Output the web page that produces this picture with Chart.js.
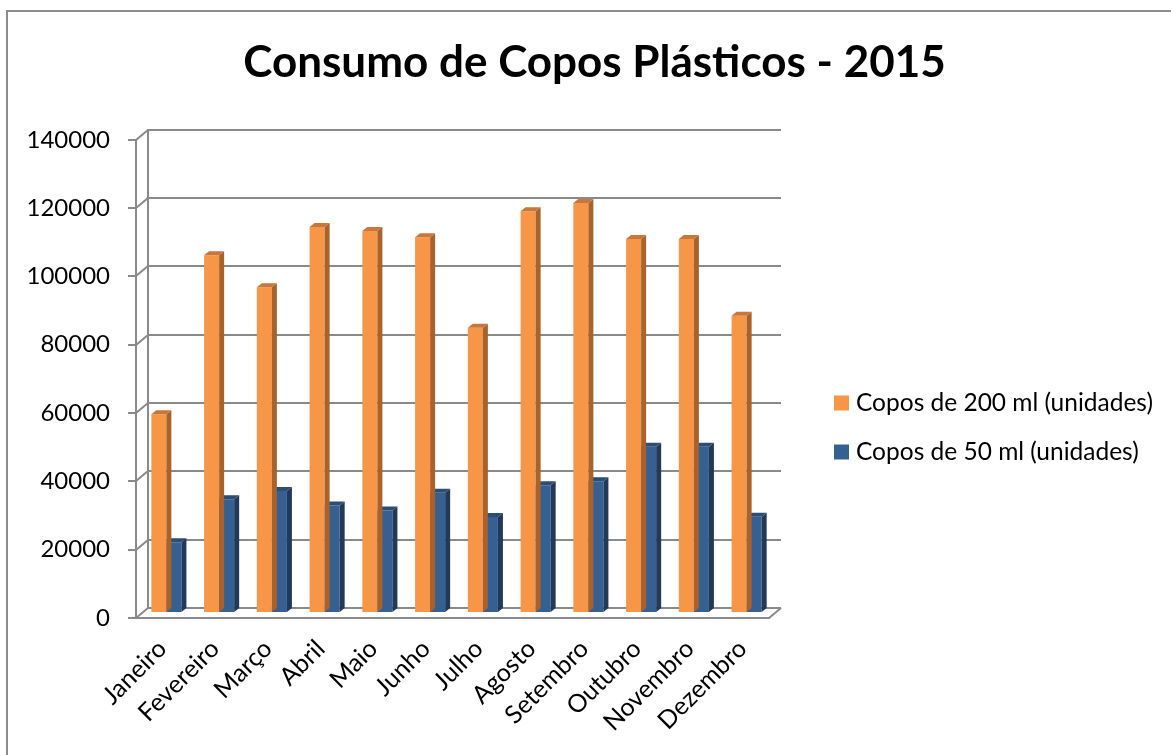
<!DOCTYPE html>
<html>
<head>
<meta charset="utf-8">
<script src="https://cdn.jsdelivr.net/npm/chart.js@4"></script>
<style>
  html, body { margin: 0; padding: 0; background: #fff; }
  #wrap { width: 1171px; height: 755px; position: relative; }
</style>
</head>
<body>
<div id="wrap"><canvas id="c" width="1171" height="755"></canvas></div>
<script>
// ---- data ----
const months = ['Janeiro', 'Fevereiro', 'Março', 'Abril', 'Maio', 'Junho', 'Julho', 'Agosto', 'Setembro', 'Outubro', 'Novembro', 'Dezembro'];
const copos200 = [58200, 104700, 95400, 113000, 111800, 110000, 83500, 117600, 120000, 109500, 109500, 87000];
const copos50 = [20700, 33300, 35700, 31500, 30000, 35200, 28100, 37400, 38600, 48700, 48700, 28200];
const seriesNames = ['Copos de 200 ml (unidades)', 'Copos de 50 ml (unidades)'];
const yTicks = [0, 20000, 40000, 60000, 80000, 100000, 120000, 140000];
const chartTitle = 'Consumo de Copos Plásticos - 2015';

// ---- styling ----
const FONT = 'Lato, "Open Sans", sans-serif';
const GRID = '#8a8a8a';
const WALL = { dx: 12, dy: -10 };   // depth of the back wall
const BAR_SHIFT = { dx: 4, dy: -5 }; // bars sit mid-depth
const BAR_DEPTH = { dx: 5, dy: -4 };
const faceColors = [
  { front: '#F79646', side: '#A9622B', top: '#C8763A' },
  { front: '#376092', side: '#213A5A', top: '#2C4D76' }
];

const excel3d = {
  id: 'excel3d',
  beforeDraw(chart) {
    const ctx = chart.ctx;
    ctx.save();
    ctx.fillStyle = '#fff';
    ctx.fillRect(0, 0, chart.width, chart.height);
    ctx.strokeStyle = '#8c8c8c';
    ctx.lineWidth = 2;
    ctx.beginPath();
    ctx.moveTo(7, chart.height);
    ctx.lineTo(7, 11);
    ctx.lineTo(chart.width, 11);
    ctx.stroke();
    ctx.restore();
  },
  beforeDatasetsDraw(chart) {
    const ctx = chart.ctx;
    const ys = chart.scales.y;
    const area = chart.chartArea;
    ctx.save();
    ctx.strokeStyle = GRID;
    ctx.lineWidth = 2;
    ctx.lineCap = 'butt';
    ctx.beginPath();
    yTicks.forEach(v => {
      const py = Math.round(ys.getPixelForValue(v));
      ctx.moveTo(area.left, py);
      ctx.lineTo(area.left + WALL.dx, py + WALL.dy);
      ctx.lineTo(area.right + WALL.dx, py + WALL.dy);
    });
    ctx.moveTo(area.left + WALL.dx, Math.round(ys.getPixelForValue(yTicks[yTicks.length - 1])) + WALL.dy);
    ctx.lineTo(area.left + WALL.dx, Math.round(ys.getPixelForValue(0)) + WALL.dy);
    const p0 = Math.round(ys.getPixelForValue(0));
    ctx.moveTo(area.right, p0);
    ctx.lineTo(area.right + WALL.dx, p0 + WALL.dy);
    ctx.stroke();
    ctx.restore();
  },
  beforeDatasetDraw(chart) {
    chart.ctx.save();
    chart.ctx.translate(BAR_SHIFT.dx, BAR_SHIFT.dy);
  },
  afterDatasetDraw(chart, args) {
    const ctx = chart.ctx;
    const meta = args.meta;
    const col = faceColors[args.index];
    meta.data.forEach(el => {
      const p = el.getProps(['x', 'y', 'base', 'width'], true);
      const L = p.x - p.width / 2, R = p.x + p.width / 2, T = p.y, B = p.base;
      ctx.fillStyle = col.side;
      ctx.beginPath();
      ctx.moveTo(R, T);
      ctx.lineTo(R + BAR_DEPTH.dx, T + BAR_DEPTH.dy);
      ctx.lineTo(R + BAR_DEPTH.dx, B + BAR_DEPTH.dy);
      ctx.lineTo(R, B);
      ctx.closePath();
      ctx.fill();
      ctx.fillStyle = col.top;
      ctx.beginPath();
      ctx.moveTo(L, T);
      ctx.lineTo(L + BAR_DEPTH.dx, T + BAR_DEPTH.dy);
      ctx.lineTo(R + BAR_DEPTH.dx, T + BAR_DEPTH.dy);
      ctx.lineTo(R, T);
      ctx.closePath();
      ctx.fill();
    });
    ctx.restore();
  },
  afterDraw(chart, args, opts) {
    const ctx = chart.ctx;
    ctx.save();
    ctx.font = '24.5px ' + FONT;
    ctx.textBaseline = 'middle';
    ctx.textAlign = 'left';
    chart.data.datasets.forEach((ds, i) => {
      const y = opts.legendY[i];
      ctx.fillStyle = ds.backgroundColor;
      ctx.fillRect(opts.legendX, y - 7.5, 15, 15);
      ctx.fillStyle = '#000';
      ctx.fillText(ds.label, opts.legendX + 22, y);
    });
    ctx.restore();
  }
};

new Chart(document.getElementById('c'), {
  type: 'bar',
  data: {
    labels: months,
    datasets: [
      { label: seriesNames[0], data: copos200, backgroundColor: faceColors[0].front, borderWidth: 0, clip: false,
        barPercentage: 1, categoryPercentage: 0.57 },
      { label: seriesNames[1], data: copos50, backgroundColor: faceColors[1].front, borderWidth: 0, clip: false,
        barPercentage: 1, categoryPercentage: 0.57 }
    ]
  },
  options: {
    responsive: false,
    animation: false,
    events: [],
    layout: { padding: { left: 18, top: 0, right: 0, bottom: 0 } },
    scales: {
      x: {
        grid: { display: false },
        border: { display: true, color: GRID, width: 2 },
        ticks: { color: '#000', font: { family: FONT, size: 25 }, maxRotation: 45, minRotation: 45, padding: 8 },
        afterFit(axis) { axis.height = 137; }
      },
      y: {
        min: 0, max: 140000,
        afterBuildTicks(axis) { axis.ticks = yTicks.map(v => ({ value: v })); },
        grid: { drawOnChartArea: false, drawTicks: true, tickLength: 8, color: GRID, lineWidth: 2 },
        border: { display: true, color: GRID, width: 2 },
        ticks: { color: '#000', font: { family: FONT, size: 24 }, padding: 18, callback: v => String(v) },
        afterFit(axis) { axis.width = 118; }
      },
      y2: {
        position: 'right',
        grid: { display: false },
        border: { display: false },
        ticks: { display: false },
        afterFit(axis) { axis.width = 402; }
      }
    },
    plugins: {
      legend: { display: false },
      tooltip: { enabled: false },
      title: {
        display: true,
        text: chartTitle,
        color: '#000',
        font: { family: FONT, size: 44, weight: 'bold' },
        padding: { top: 36, bottom: 51 }
      },
      excel3d: { legendX: 834, legendY: [403, 452] }
    }
  },
  plugins: [excel3d]
});
</script>
</body>
</html>
